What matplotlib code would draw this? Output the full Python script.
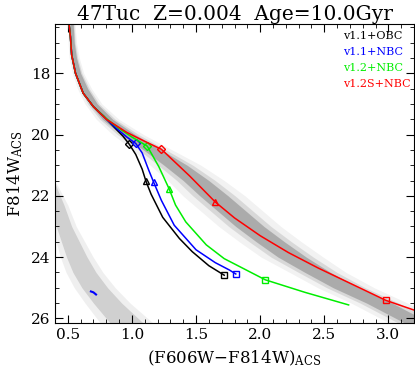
import matplotlib
matplotlib.use("Agg")
import matplotlib.pyplot as plt
import numpy as np
from matplotlib.ticker import MultipleLocator

plt.rcParams['font.family'] = ['DejaVu Serif']
plt.rcParams['mathtext.fontset'] = 'dejavuserif'

# Observed 47 Tuc main sequence ridge (F814W mag, colour, core half-width)
ms_mag = [16.4, 17.0, 17.5, 18.0, 18.5, 19.0, 19.5, 20.0, 20.5, 21.0, 21.5, 22.0,
          22.5, 23.0, 23.5, 24.0, 24.5, 25.0, 25.5, 26.2]
ms_color = [0.53, 0.535, 0.55, 0.58, 0.63, 0.70, 0.81, 0.97, 1.16, 1.34, 1.50, 1.64,
            1.78, 1.92, 2.08, 2.25, 2.45, 2.67, 2.93, 3.25]
ms_width = [0.012, 0.015, 0.018, 0.02, 0.025, 0.03, 0.04, 0.055, 0.07, 0.09, 0.10, 0.11,
            0.11, 0.11, 0.11, 0.11, 0.10, 0.10, 0.10, 0.10]

# SMC background sequence (lower left)
smc_mag = [21.6, 22.3, 23.0, 23.5, 24.0, 24.5, 25.0, 25.5, 26.2]
smc_color = [0.38, 0.42, 0.47, 0.52, 0.57, 0.63, 0.71, 0.81, 0.97]
smc_width = [0.02, 0.05, 0.06, 0.07, 0.08, 0.09, 0.10, 0.11, 0.13]

# Isochrones (colour, mag)
top_color = [0.51, 0.52, 0.53, 0.56, 0.62, 0.70]
top_mag = [16.40, 16.80, 17.40, 18.00, 18.65, 19.09]

black_color = top_color + [0.78, 0.86, 0.93, 0.98, 1.03, 1.08, 1.11, 1.15, 1.24, 1.37, 1.47, 1.60, 1.72]
black_mag = top_mag + [19.40, 19.75, 20.05, 20.32, 20.65, 21.13, 21.53, 21.95, 22.70, 23.39, 23.82, 24.28, 24.59]

blue_color = top_color + [0.79, 0.88, 0.96, 1.03, 1.08, 1.13, 1.17, 1.23, 1.33, 1.50, 1.65, 1.76, 1.81]
blue_mag = top_mag + [19.45, 19.80, 20.08, 20.29, 20.60, 21.15, 21.56, 22.15, 22.96, 23.76, 24.18, 24.42, 24.55]

green_color = top_color + [0.80, 0.90, 1.00, 1.12, 1.21, 1.29, 1.34, 1.42, 1.58, 1.72, 2.04, 2.35, 2.69]
green_mag = top_mag + [19.48, 19.80, 20.08, 20.38, 21.05, 21.77, 22.30, 22.85, 23.60, 24.05, 24.74, 25.15, 25.56]

red_color = top_color + [0.80, 0.96, 1.10, 1.23, 1.45, 1.65, 1.80, 2.00, 2.22, 2.45, 2.70, 2.98, 3.25]
red_mag = top_mag + [19.50, 19.93, 20.22, 20.48, 21.35, 22.20, 22.72, 23.30, 23.85, 24.35, 24.85, 25.41, 25.80]

blue_tail_color = [0.68, 0.70, 0.72]
blue_tail_mag = [25.12, 25.15, 25.22]

# Markers: diamond, triangle, square for each model
mk_black_color = [0.98, 1.11, 1.72]
mk_black_mag = [20.32, 21.53, 24.59]
mk_blue_color = [1.03, 1.17, 1.81]
mk_blue_mag = [20.29, 21.56, 24.55]
mk_green_color = [1.12, 1.29, 2.04]
mk_green_mag = [20.38, 21.77, 24.74]
mk_red_color = [1.23, 1.65, 2.98]
mk_red_mag = [20.48, 22.20, 25.41]

labels = ['v1.1+OBC', 'v1.1+NBC', 'v1.2+NBC', 'v1.2S+NBC']
colors = ['black', '#0000ff', '#00ee00', '#ff0000']

fig = plt.figure(figsize=(4.15, 3.75), dpi=100)
ax = fig.add_axes([55/415, 1-323/375, 359/415, (323-24.3)/375])

def band(mag, col, w, scale, alpha):
    mag = np.array(mag); col = np.array(col); w = np.array(w) * scale
    ax.fill_betweenx(mag, col - w, col + w, color='#808080', alpha=alpha, lw=0)

for s, a in [(2.2, 0.10), (1.5, 0.22), (1.0, 0.5)]:
    band(ms_mag, ms_color, ms_width, s, a)
for s, a in [(1.6, 0.12), (1.0, 0.28)]:
    band(smc_mag, smc_color, smc_width, s, a)

lines = [(black_color, black_mag, mk_black_color, mk_black_mag),
         (blue_color, blue_mag, mk_blue_color, mk_blue_mag),
         (green_color, green_mag, mk_green_color, mk_green_mag),
         (red_color, red_mag, mk_red_color, mk_red_mag)]
for (c, m, mc, mm), col in zip(lines, colors):
    ax.plot(c, m, color=col, lw=1.1)
    for (x, y, mk, ms) in zip(mc, mm, ['D', '^', 's'], [4, 5, 5]):
        ax.plot([x], [y], marker=mk, ms=ms, mfc='none', mec=col, mew=1.0)
ax.plot(blue_tail_color, blue_tail_mag, color='#0000ff', lw=1.5)

for i, (lab, col) in enumerate(zip(labels, colors)):
    ax.text(0.802, 0.962 - i*0.054, lab, color=col, fontsize=8,
            transform=ax.transAxes, va='center', ha='left')

ax.set_xlim(0.4, 3.2)
ax.set_ylim(26.15, 16.4)
ax.xaxis.set_major_locator(MultipleLocator(0.5))
ax.xaxis.set_minor_locator(MultipleLocator(0.1))
ax.yaxis.set_major_locator(MultipleLocator(2))
ax.yaxis.set_minor_locator(MultipleLocator(0.5))
ax.xaxis.set_major_formatter(matplotlib.ticker.FormatStrFormatter('%.1f'))
ax.tick_params(which='both', direction='in', top=True, right=True, labelsize=11)
ax.tick_params(which='major', length=6)
ax.tick_params(which='minor', length=3)
ax.set_xlabel(r'(F606W$-$F814W)$_{\mathrm{ACS}}$', fontsize=12, labelpad=5)
ax.set_ylabel(r'F814W$_{\mathrm{ACS}}$', fontsize=12, labelpad=4)
ax.set_title('47Tuc  Z=0.004  Age=10.0Gyr', fontsize=14.5, pad=3)

fig.savefig('out.png', dpi=100)
